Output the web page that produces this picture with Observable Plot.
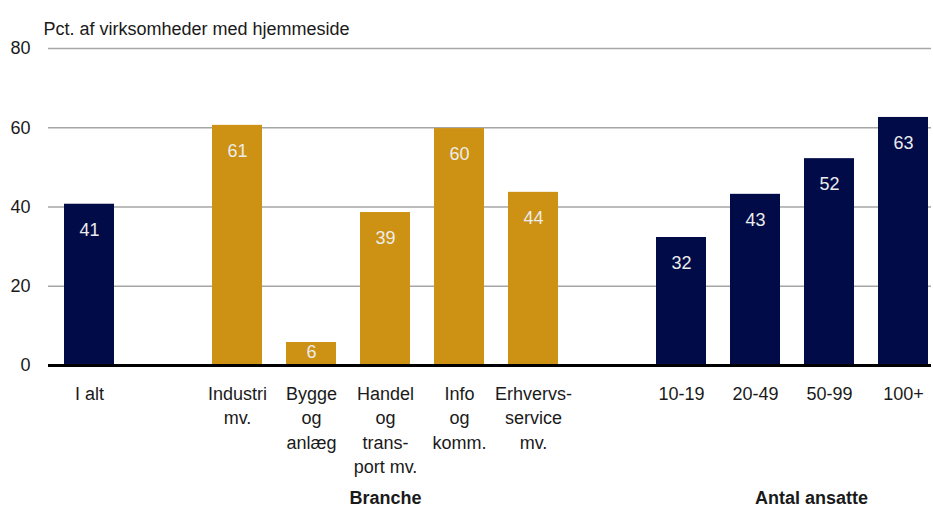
<!DOCTYPE html>
<html>
<head>
<meta charset="utf-8">
<script src="https://cdn.jsdelivr.net/npm/d3@7"></script>
<script src="https://cdn.jsdelivr.net/npm/@observablehq/plot@0.6"></script>
<style>
  html, body { margin: 0; padding: 0; background: #fff; }
  #chart svg { display: block; }
</style>
</head>
<body>
<div id="chart"></div>
<script>
const keys = ["I alt", "gap1", "Industri", "Bygge", "Handel", "Info", "Erhverv", "gap2", "10-19", "20-49", "50-99", "100+"];
const tickLabels = ["I alt", "", "Industri\nmv.", "Bygge\nog\nanlæg", "Handel\nog\ntrans-\nport mv.", "Info\nog\nkomm.", "Erhvervs-\nservice\nmv.", "", "10-19", "20-49", "50-99", "100+"];
const barKeys = ["I alt", "Industri", "Bygge", "Handel", "Info", "Erhverv", "10-19", "20-49", "50-99", "100+"];
const values = [40.7, 60.6, 5.8, 38.6, 59.8, 43.7, 32.3, 43.2, 52.2, 62.6];
const groups = ["total", "branche", "branche", "branche", "branche", "branche", "ansatte", "ansatte", "ansatte", "ansatte"];
const yTicks = [0, 20, 40, 60, 80];
const title = "Pct. af virksomheder med hjemmeside";
const groupLabels = ["Branche", "Antal ansatte"];
const groupAt = ["Handel", "50-99"];

const navy = "#000b48";
const gold = "#cd9214";
const font = "'Liberation Sans', Arial, sans-serif";
const fs = 18;

const bars = barKeys.map((k, i) => ({key: k, value: values[i], group: groups[i], label: String(Math.round(values[i]))}));
const ticks = keys.map((k, i) => ({key: k, label: tickLabels[i]})).filter(d => d.label);

const chart = Plot.plot({
  width: 933,
  height: 508,
  marginLeft: 48,
  marginRight: 2,
  marginTop: 48,
  marginBottom: 143,
  style: {fontFamily: font, fontSize: fs + "px", color: "#1a1a1a", background: "#fff"},
  x: {domain: keys, range: [48, 943], paddingInner: 0.33, paddingOuter: 0.16, axis: null},
  y: {domain: [0, 80], axis: null},
  marks: [
    Plot.gridY(yTicks.filter(d => d > 0), {stroke: "#a6a6a6", strokeOpacity: 1, strokeWidth: 1.6}),
    Plot.axisY(yTicks, {tickSize: 0, tickPadding: 18, label: null, fontSize: fs, fill: "#1a1a1a"}),
    Plot.barY(bars, {x: "key", y: "value", fill: d => d.group === "branche" ? gold : navy}),
    Plot.ruleY([0], {stroke: "#000", strokeWidth: 3}),
    Plot.text(bars.filter(d => d.value >= 10), {x: "key", y: "value", text: "label", dy: 26, fill: "#ececec", fontSize: fs}),
    Plot.text(bars.filter(d => d.value < 10), {x: "key", y: "value", text: "label", dy: 10, fill: "#ececec", fontSize: fs}),
    Plot.text(ticks, {x: "key", text: "label", frameAnchor: "bottom", lineAnchor: "top", dy: 17, lineHeight: 1.36, fontSize: fs, fill: "#1a1a1a"}),
    Plot.text([{t: groupLabels[0], x: groupAt[0]}], {x: "x", text: "t", frameAnchor: "bottom", lineAnchor: "middle", dy: 133, fontWeight: "bold", fontSize: fs, fill: "#1a1a1a"}),
    Plot.text([{t: groupLabels[1], x: groupAt[1]}], {x: "x", text: "t", frameAnchor: "bottom", lineAnchor: "middle", dy: 133, dx: -18, fontWeight: "bold", fontSize: fs, fill: "#1a1a1a"}),
    Plot.text([title], {frameAnchor: "top-left", textAnchor: "start", lineAnchor: "bottom", dx: -5, dy: -14, fontSize: fs, fill: "#1a1a1a"})
  ]
});
document.getElementById("chart").appendChild(chart);
</script>
</body>
</html>
